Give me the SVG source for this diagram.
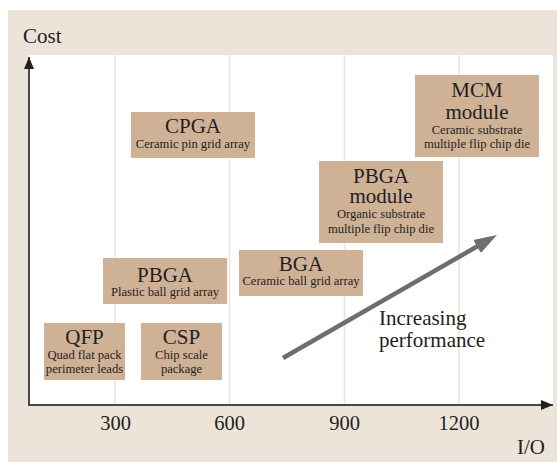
<svg xmlns="http://www.w3.org/2000/svg" width="557" height="462" viewBox="0 0 557 462">
  <style>
    .frame { fill: #ede4d9; }
    .plot { fill: #ffffff; }
    .grid { stroke: #ede4d9; stroke-width: 1.6; fill: none; }
    .axis { stroke: #4a4546; stroke-width: 2; fill: none; }
    .box { fill: #cfb196; }
    text { font-family: "Liberation Serif", "Times New Roman", serif; fill: #231f20; }
    .big { font-size: 21px; }
    .small { font-size: 12.6px; }
    .tick { font-size: 20.5px; text-anchor: middle; }
    .mid { text-anchor: middle; }
    .trend { stroke: #6d6e71; stroke-width: 4.5; fill: none; }
  </style>
  <defs>
    <marker id="axisHead" markerUnits="userSpaceOnUse" viewBox="0 -5 12 10" markerWidth="12" markerHeight="10" refX="12" refY="0" orient="auto">
      <path d="M0,-5 L12,0 L0,5 Z" fill="#231f20"/>
    </marker>
    <marker id="trendHead" markerUnits="userSpaceOnUse" viewBox="0 -8 23 16" markerWidth="23" markerHeight="16" refX="8" refY="0" orient="auto">
      <path d="M0,-7.5 L23,0 L0,7.5 Z" fill="#6d6e71"/>
    </marker>
  </defs>

  <!-- background frame and plotting area -->
  <rect class="frame" x="8" y="10" width="549" height="452"/>
  <rect class="plot" x="29" y="55" width="524" height="350"/>

  <!-- vertical grid lines -->
  <g id="grid">
    <line class="grid" x1="115" y1="55" x2="115" y2="405"/>
    <line class="grid" x1="229.5" y1="55" x2="229.5" y2="405"/>
    <line class="grid" x1="344.5" y1="55" x2="344.5" y2="405"/>
    <line class="grid" x1="459" y1="55" x2="459" y2="405"/>
  </g>

  <!-- axes -->
  <g id="axes">
    <line class="axis" x1="29" y1="405" x2="29" y2="57" marker-end="url(#axisHead)"/>
    <line class="axis" x1="28" y1="405" x2="553" y2="405" marker-end="url(#axisHead)"/>
    <text class="big" x="23" y="43">Cost</text>
    <text class="big" x="517" y="454">I/O</text>
    <text class="tick" x="115.5" y="430">300</text>
    <text class="tick" x="229.5" y="430">600</text>
    <text class="tick" x="344.5" y="430">900</text>
    <text class="tick" x="459" y="430">1200</text>
  </g>

  <!-- package nodes -->
  <g id="node-cpga">
    <rect class="box" x="131" y="112" width="124" height="46"/>
    <text class="big mid" x="193" y="133">CPGA</text>
    <text class="small mid" x="193" y="148">Ceramic pin grid array</text>
  </g>

  <g id="node-mcm">
    <rect class="box" x="415" y="75" width="124" height="82"/>
    <text class="big mid" x="477" y="97">MCM</text>
    <text class="big mid" x="477" y="119">module</text>
    <text class="small mid" x="477" y="134">Ceramic substrate</text>
    <text class="small mid" x="477" y="147.5">multiple flip chip die</text>
  </g>

  <g id="node-pbga-module">
    <rect class="box" x="319" y="161" width="124" height="82"/>
    <text class="big mid" x="381" y="183">PBGA</text>
    <text class="big mid" x="381" y="203">module</text>
    <text class="small mid" x="381" y="218">Organic substrate</text>
    <text class="small mid" x="381" y="233">multiple flip chip die</text>
  </g>

  <g id="node-pbga">
    <rect class="box" x="103" y="258" width="124" height="46"/>
    <text class="big mid" x="165" y="282">PBGA</text>
    <text class="small mid" x="165" y="296">Plastic ball grid array</text>
  </g>

  <g id="node-bga">
    <rect class="box" x="239" y="250" width="124" height="46"/>
    <text class="big mid" x="301" y="271">BGA</text>
    <text class="small mid" x="301" y="285">Ceramic ball grid array</text>
  </g>

  <g id="node-qfp">
    <rect class="box" x="44" y="323" width="81" height="57"/>
    <text class="big mid" x="84.5" y="344">QFP</text>
    <text class="small mid" x="84.5" y="359">Quad flat pack</text>
    <text class="small mid" x="84.5" y="373">perimeter leads</text>
  </g>

  <g id="node-csp">
    <rect class="box" x="141" y="323" width="81" height="57"/>
    <text class="big mid" x="181.5" y="344">CSP</text>
    <text class="small mid" x="181.5" y="359">Chip scale</text>
    <text class="small mid" x="181.5" y="373">package</text>
  </g>

  <!-- performance trend -->
  <g id="connectors">
    <line class="trend" x1="283" y1="358" x2="484" y2="242.5" marker-end="url(#trendHead)"/>
  </g>
  <g id="label-performance">
    <text class="big" x="379" y="325">Increasing</text>
    <text class="big" x="379" y="347">performance</text>
  </g>
</svg>
